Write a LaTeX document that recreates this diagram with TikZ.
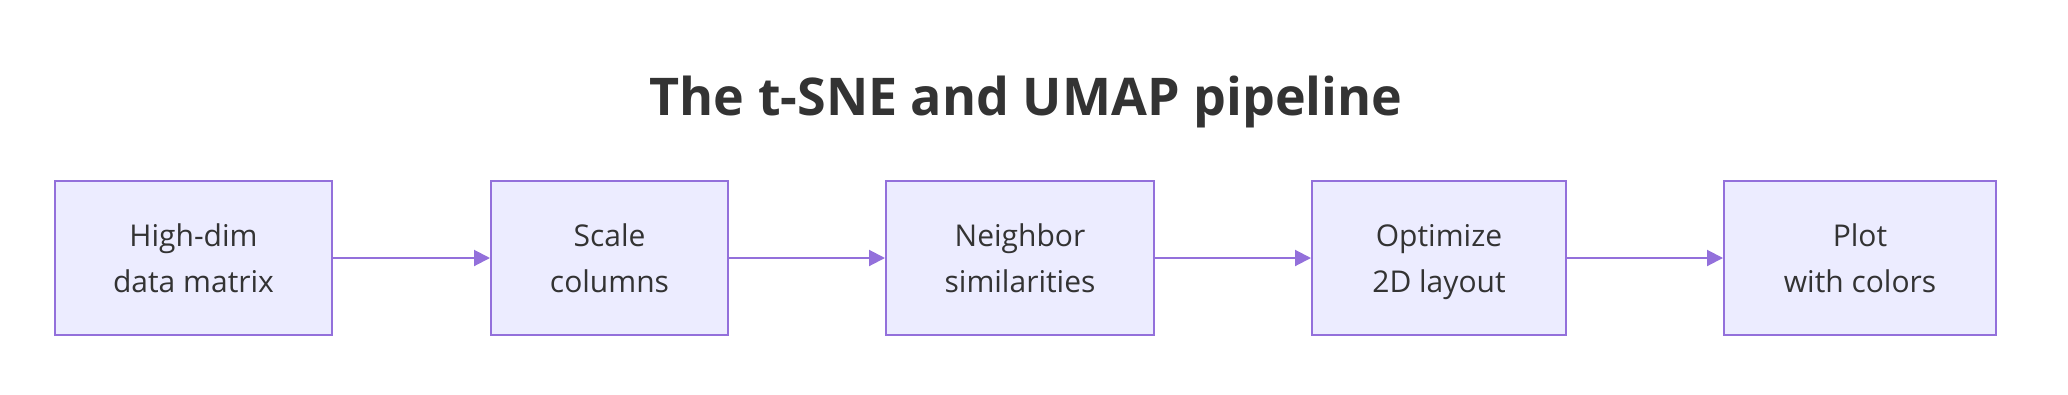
\documentclass[tikz,border=0pt]{standalone}
\usepackage{fontspec}
\setmainfont{Open Sans}
\usetikzlibrary{arrows.meta}
\definecolor{boxfill}{HTML}{ECECFF}
\definecolor{boxline}{HTML}{9370DB}
\definecolor{txt}{HTML}{333333}
\newcommand{\twolines}[2]{\vphantom{d}#1\\\smash{#2}}
\tikzset{
  stage/.style={draw=boxline, fill=boxfill, line width=2pt, minimum height=154pt,
    inner sep=0pt, align=center, text=txt, font=\fontsize{30}{46}\selectfont},
  flow/.style={draw=boxline, line width=2pt, -{Triangle[length=16pt,width=16pt]}},
  heading/.style={text=txt, font=\fontsize{52}{60}\selectfont\bfseries, inner sep=0pt, anchor=base}
}
\begin{document}
\begin{tikzpicture}[x=1pt,y=1pt]
\useasboundingbox (0,0) rectangle (2068,-394);
\node[heading] (title) at (1026,-115) {The t-SNE and UMAP pipeline};
\node[stage, minimum width=277pt] (a) at (193.5,-258) {\twolines{High-dim}{data matrix}};
\node[stage, minimum width=237pt] (b) at (609.5,-258) {\twolines{Scale}{columns}};
\node[stage, minimum width=268pt] (c) at (1020,-258) {\twolines{Neighbor}{similarities}};
\node[stage, minimum width=254pt] (d) at (1439,-258) {\twolines{Optimize}{2D layout}};
\node[stage, minimum width=272pt] (e) at (1860,-258) {\twolines{Plot}{with colors}};
\draw[flow] (a) -- (b);
\draw[flow] (b) -- (c);
\draw[flow] (c) -- (d);
\draw[flow] (d) -- (e);
\end{tikzpicture}
\end{document}
